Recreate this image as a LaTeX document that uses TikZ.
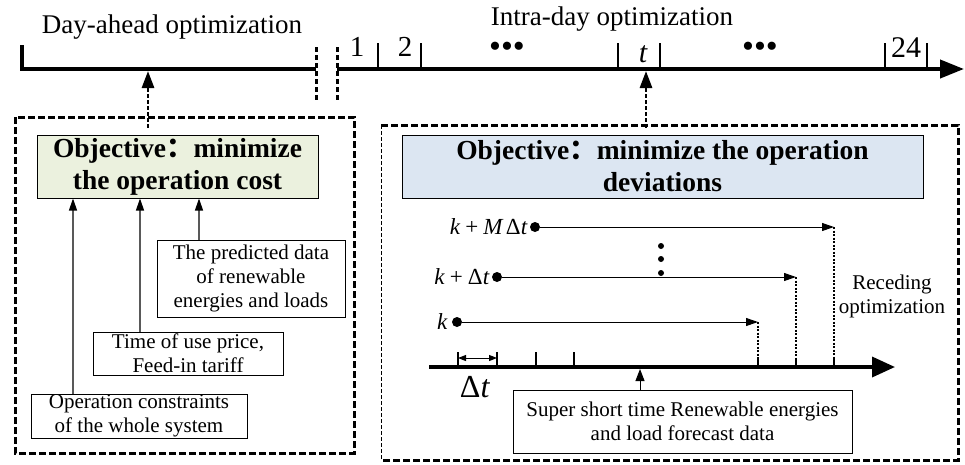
\documentclass[tikz,border=0pt]{standalone}
\usepackage{fontspec}
\setmainfont{Liberation Serif}
\newfontfamily\cjk{Noto Sans CJK SC}
\usetikzlibrary{arrows.meta, positioning, calc}
\definecolor{costFill}{RGB}{235,241,222}
\definecolor{devFill}{RGB}{220,230,242}
\tikzstyle{biglabel} = [font=\fontsize{27}{32}\selectfont, inner sep=0pt]
\tikzstyle{ellipsis} = [font=\fontsize{34}{36}\selectfont, inner sep=0pt, text height=16pt, text depth=0pt, anchor=base]
\tikzstyle{objbox} = [rectangle, draw=black, line width=1pt, align=center, inner sep=0pt,
minimum height=63pt, font=\bfseries\fontsize{27.5}{32}\selectfont]
\tikzstyle{infobox} = [rectangle, draw=black, line width=0.9pt, align=center, inner sep=0pt,
font=\fontsize{21}{24}\selectfont]
\tikzstyle{frame} = [line width=3pt, dash pattern=on 7pt off 3pt]
\tikzstyle{feed} = [draw=black!65, line width=1.2pt, -{Triangle[length=12pt, width=8pt, color=black]}]
\tikzstyle{link} = [line width=2.8pt, dash pattern=on 3.5pt off 2.5pt, -{Triangle[length=17pt, width=12pt]}]
\tikzstyle{pt} = [circle, fill=black, inner sep=0pt, minimum size=10pt]
\tikzstyle{horizon} = [line width=1pt, -{Triangle[length=12pt, width=8pt]}]
\tikzstyle{drop} = [line width=1.3pt, dash pattern=on 2pt off 1.5pt]
\tikzstyle{klabel} = [font=\fontsize{23}{26}\selectfont, inner sep=0pt]

\begin{document}
\begin{tikzpicture}[x=1pt, y=-1pt]
    \useasboundingbox (0,0) rectangle (965,464);

    %Time axis
    \draw [line width=4pt] (22,45) -- (22,69) -- (316,69);
    \draw [line width=4pt, -{Triangle[length=24pt, width=18pt]}] (337,69) -- (964,69);
    \draw [line width=3pt, dash pattern=on 5pt off 3pt] (316,47) -- (316,100);
    \draw [line width=3pt, dash pattern=on 5pt off 3pt] (337,47) -- (337,100);
    \foreach \x in {378,421,618,660,885,927}
        \draw [line width=2pt] (\x,43) -- (\x,69);

    \node (dayLbl) [biglabel, anchor=base] at (172,33) {Day-ahead optimization};
    \node (intraLbl) [biglabel, anchor=base] at (612,25) {Intra-day optimization};
    \node (hour1) [biglabel, font=\fontsize{29}{32}\selectfont, anchor=base] at (357,56) {1};
    \node (hour2) [biglabel, font=\fontsize{29}{32}\selectfont, anchor=base] at (405,56) {2};
    \node (dotsA) [ellipsis] at (507,57) {•••};
    \node (hourT) [biglabel, font=\itshape\fontsize{30}{32}\selectfont, anchor=base] at (643,62) {t};
    \node (dotsB) [ellipsis] at (760,57) {•••};
    \node (hour24) [biglabel, font=\fontsize{30}{32}\selectfont, anchor=base] at (906,57) {24};
    \coordinate (dayAxis) at (148,71);
    \coordinate (intraAxis) at (646,71);

    %Frames
    \draw [frame] (15,117) rectangle (354,453);
    \draw [frame] (381,125) -- (958,125) -- (958,460) -- (381,460);
    \draw [line width=0.8pt, dash pattern=on 4pt off 2pt] (381,125) -- (381,460);

    %Day-ahead side
    \node (costObj) [objbox, fill=costFill, minimum width=281pt] at (177.5,166.5)
        {Objective{\cjk ：}minimize\\the operation cost};
    \node (predData) [infobox, minimum width=188pt, minimum height=77pt] at (251,278.5)
        {The predicted data\\of renewable\\energies and loads};
    \node (touPrice) [infobox, minimum width=190pt, minimum height=43pt] at (188,353.5)
        {Time of use price,\\Feed-in tariff};
    \node (sysLimit) [infobox, minimum width=216pt, minimum height=44pt] at (139,416)
        {Operation constraints\\of the whole system};

    %Intra-day side
    \node (devObj) [objbox, fill=devFill, minimum width=521pt] at (662.5,166.5)
        {Objective{\cjk ：}minimize the operation\\deviations};
    \node (forecast) [infobox, minimum width=339pt, minimum height=63pt] at (682.5,421.5)
        {Super short time Renewable energies\\and load forecast data};
    \node (recede) [infobox, draw=none] at (892,296) {Receding\\optimization};

    \node (kDot) [pt] at (457,322) {};
    \node (kDtDot) [pt] at (497,277) {};
    \node (kMDot) [pt] at (535,227) {};
    \node (kLbl) [klabel, left=4pt of kDot] {\textit{k}};
    \node (kDtLbl) [klabel, left=2pt of kDtDot] {\textit{k}\hspace{0.22em}+\hspace{0.22em}Δ\textit{t}};
    \node (kMLbl) [klabel, left=2pt of kMDot] {\textit{k}\hspace{0.22em}+\hspace{0.22em}\textit{M}\hspace{0.1em}Δ\textit{t}};
    \coordinate (kEnd) at (758,322);
    \coordinate (kDtEnd) at (796,277);
    \coordinate (kMEnd) at (834,227);
    \coordinate (lowAxis) at (0,369);
    \foreach \y in {246,259,273}
        \fill (661,\y) circle (3pt);

    %Rolling horizon axis
    \draw [line width=3.5pt, -{Triangle[length=23pt, width=20pt]}] (429,367) -- (895,367);
    \foreach \x in {458,497,536,574}
        \draw [line width=1.5pt] (\x,352) -- (\x,367);
    \foreach \x in {758,796,834}
        \draw [line width=1.8pt] (\x,358) -- (\x,367);
    \draw [line width=1pt, {Triangle[length=8pt, width=6pt]}-{Triangle[length=8pt, width=6pt]}] (458,358) -- (497,358);
    \node (stepLbl) [font=\fontsize{32}{36}\selectfont, inner sep=0pt] at (475,387) {Δ\textit{t}};

    %Arrows
    \draw [feed] ([xshift=-66pt]sysLimit.north) -- ([xshift=-66pt]sysLimit.north |- costObj.south);
    \draw [feed] ([xshift=-48pt]touPrice.north) -- ([xshift=-48pt]touPrice.north |- costObj.south);
    \draw [feed] ([xshift=-52pt]predData.north) -- ([xshift=-52pt]predData.north |- costObj.south);
    \draw [link] ($(costObj.north -| dayAxis)+(0,-7)$) -- (dayAxis);
    \draw [link] ($(devObj.north -| intraAxis)+(0,-7)$) -- (intraAxis);
    \draw [horizon] (kDot) -- (kEnd);
    \draw [horizon] (kDtDot) -- (kDtEnd);
    \draw [horizon] (kMDot) -- (kMEnd);
    \draw [drop] (kEnd) -- ++(0,36);
    \draw [drop] (kDtEnd) -- ++(0,81);
    \draw [drop] (kMEnd) -- ++(0,131);
    \draw [line width=1pt, -{Triangle[length=12pt, width=9pt]}] ([xshift=-42.5pt]forecast.north) -- ([xshift=-42.5pt]forecast.north |- lowAxis);

\end{tikzpicture}
\end{document}
